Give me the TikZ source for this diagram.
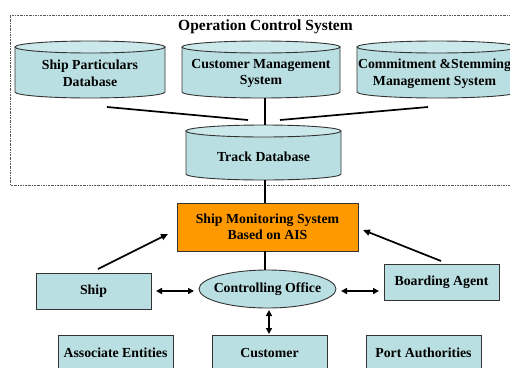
\documentclass[tikz,border=0pt]{standalone}
\usepackage{fontspec}
\setmainfont{Liberation Serif}
\usetikzlibrary{arrows.meta,shapes.geometric}
\definecolor{cylbody}{HTML}{BADFE2}
\definecolor{cyltop}{HTML}{CBE8EB}
\definecolor{boxfill}{HTML}{BADFE2}
\definecolor{orng}{HTML}{FF9900}
\definecolor{edge}{HTML}{333333}
\tikzset{
  txt/.style={font=\fontsize{13.8}{16.5}\selectfont\bfseries, align=center, inner sep=0pt},
  cylb/.style={fill=cylbody, draw=edge, line width=0.9pt},
  cylt/.style={fill=cyltop, draw=edge, line width=0.9pt},
  boxs/.style={fill=boxfill, draw=edge, line width=0.9pt},
  conn/.style={line width=1.7pt},
  arr/.style={conn, -{Triangle[length=7pt,width=6pt]}},
  darr/.style={conn, {Triangle[length=6pt,width=6pt]}-{Triangle[length=6pt,width=6pt]}},
}
\begin{document}
\begin{tikzpicture}[x=1pt,y=-1pt]
\useasboundingbox (0,0) rectangle (510,367);
\begin{scope}
\clip (0,0) rectangle (510,367);
% dotted frame
\draw[gray!70!black, line width=0.7pt, dash pattern=on 2pt off 1pt on 0.6pt off 1pt] (520,15) -- (10,15) -- (10,185) -- (520,185);
\node[txt, font=\fontsize{15.5}{18}\selectfont\bfseries] (ocs) at (265.5,27) {Operation Control System};
% cylinder 1
\filldraw[cylb] (15,47) -- (15,92) arc[start angle=180,end angle=0,x radius=75,y radius=6] -- (165,47) -- cycle;
\filldraw[cylt] (90,47) ellipse[x radius=75,y radius=6];
\node[txt] (spd) at (90,73.5) {Ship Particulars\\Database};
% cylinder 2
\filldraw[cylb] (182,47) -- (182,92) arc[start angle=180,end angle=0,x radius=79,y radius=6] -- (340,47) -- cycle;
\filldraw[cylt] (261,47) ellipse[x radius=79,y radius=6];
\node[txt] (cms) at (261,73.5) {Customer Management\\System};
% cylinder 3
\filldraw[cylb] (357,47) -- (357,92) arc[start angle=180,end angle=0,x radius=80,y radius=6] -- (517,47) -- cycle;
\filldraw[cylt] (437,47) ellipse[x radius=80,y radius=6];
\node[txt] (csm) at (434.5,73.5) {Commitment \&Stemming\\Management System};
% track database
\filldraw[cylb] (186,131) -- (186,174) arc[start angle=180,end angle=0,x radius=77.5,y radius=6] -- (341,131) -- cycle;
\filldraw[cylt] (263.5,131) ellipse[x radius=77.5,y radius=6];
\node[txt] (tdb) at (263.5,157) {Track Database};
% coordinates for connector ends
\coordinate (cmsb) at (265,98);
\coordinate (tdbt) at (265,125);
\coordinate (tdbb) at (265,180);
\coordinate (l1a) at (107,107);
\coordinate (l1b) at (248,120);
\coordinate (l2a) at (280,120);
\coordinate (l2b) at (428,107);
% ship monitoring
\node[txt, fill=orng, draw=edge, line width=0.9pt, minimum width=181pt, minimum height=48pt] (sms) at (267.5,227) {Ship Monitoring System\\Based on AIS};
% controlling office
\node[txt, ellipse, fill=boxfill, draw=edge, line width=0.9pt, minimum width=137pt, minimum height=38pt] (co) at (267.5,289) {\makebox[0pt]{Controlling Office}};
% ship, boarding
\node[txt, boxs, minimum width=115pt, minimum height=36pt] (ship) at (93.5,291) {Ship};
\node[txt, boxs, minimum width=115pt, minimum height=36pt] (ba) at (441.5,282) {Boarding Agent};
% bottom boxes
\node[txt, boxs, minimum width=115pt, minimum height=36pt] (ae) at (115.5,353) {Associate Entities};
\node[txt, boxs, minimum width=115pt, minimum height=36pt] (cu) at (269.5,353) {Customer};
\node[txt, boxs, minimum width=115pt, minimum height=36pt] (pa) at (423.5,353) {Port Authorities};
% connectors
\draw[conn] (l1a) -- (l1b);
\draw[conn] (l2a) -- (l2b);
\draw[conn] (cmsb) -- (tdbt);
\draw[conn] (tdbb) -- (sms.north -| tdbb);
\draw[conn] (sms.south -| tdbb) -- (co.north -| tdbb);
\coordinate (sa) at (98,269);
\coordinate (se) at (168,234);
\draw[arr] (sa) -- (se);
\coordinate (ba1) at (441,261);
\coordinate (ba2) at (363,230);
\draw[arr] (ba1) -- (ba2);
\coordinate (d1a) at (156,291);
\coordinate (d1b) at (194,291);
\draw[darr] (d1a) -- (d1b);
\coordinate (d2a) at (341,291);
\coordinate (d2b) at (379,291);
\draw[darr] (d2a) -- (d2b);
\coordinate (d3a) at (269,310);
\coordinate (d3b) at (269,334);
\draw[darr] (d3a) -- (d3b);
\end{scope}
\end{tikzpicture}
\end{document}
